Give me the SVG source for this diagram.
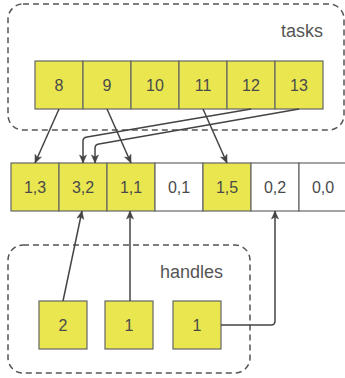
<svg xmlns="http://www.w3.org/2000/svg" width="345" height="378" viewBox="0 0 345 378">
<defs>
<marker id="arr" markerWidth="10" markerHeight="8" refX="9" refY="4" orient="auto" markerUnits="userSpaceOnUse">
<path d="M1,0.5 L9,4 L1,7.5 L3,4 Z" fill="#444" stroke="#444" stroke-width="0.5"/>
</marker>
</defs>
<style>
.grp{fill:none;stroke:#555;stroke-width:1.5;stroke-dasharray:6 4}
.y{fill:#e9e650;stroke:#666;stroke-width:1.2}
.w{fill:#ffffff;stroke:#666;stroke-width:1.2}
.t{font-family:"Liberation Sans",Arial,sans-serif;font-size:16px;fill:#4a4a4a;text-anchor:middle}
.lbl{font-family:"Liberation Sans",Arial,sans-serif;font-size:18px;fill:#555;text-anchor:end}
.c{fill:none;stroke:#444;stroke-width:1.5;marker-end:url(#arr)}
</style>
<g id="tasks-group">
<rect class="grp" x="8" y="4" width="336" height="126" rx="15"/>
<text class="lbl" x="323" y="37">tasks</text>
</g>
<g id="handles-group">
<rect class="grp" x="8" y="245" width="242" height="128" rx="15"/>
<text class="lbl" x="223" y="278">handles</text>
</g>
<g id="task-8"><rect class="y" x="35" y="61" width="48" height="48"/><text class="t" x="59" y="91">8</text></g>
<g id="task-9"><rect class="y" x="83" y="61" width="48" height="48"/><text class="t" x="107" y="91">9</text></g>
<g id="task-10"><rect class="y" x="131" y="61" width="48" height="48"/><text class="t" x="155" y="91">10</text></g>
<g id="task-11"><rect class="y" x="179" y="61" width="48" height="48"/><text class="t" x="203" y="91">11</text></g>
<g id="task-12"><rect class="y" x="227" y="61" width="48" height="48"/><text class="t" x="251" y="91">12</text></g>
<g id="task-13"><rect class="y" x="275" y="61" width="48" height="48"/><text class="t" x="299" y="91">13</text></g>
<g id="slot-0"><rect class="y" x="11" y="163" width="48" height="48"/><text class="t" x="35" y="193">1,3</text></g>
<g id="slot-1"><rect class="y" x="59" y="163" width="48" height="48"/><text class="t" x="83" y="193">3,2</text></g>
<g id="slot-2"><rect class="y" x="107" y="163" width="48" height="48"/><text class="t" x="131" y="193">1,1</text></g>
<g id="slot-3"><rect class="w" x="155" y="163" width="48" height="48"/><text class="t" x="179" y="193">0,1</text></g>
<g id="slot-4"><rect class="y" x="203" y="163" width="48" height="48"/><text class="t" x="227" y="193">1,5</text></g>
<g id="slot-5"><rect class="w" x="251" y="163" width="48" height="48"/><text class="t" x="275" y="193">0,2</text></g>
<g id="slot-6"><rect class="w" x="299" y="163" width="48" height="48"/><text class="t" x="323" y="193">0,0</text></g>
<g id="handle-1"><rect class="y" x="39" y="301" width="48" height="48"/><text class="t" x="63" y="331">2</text></g>
<g id="handle-2"><rect class="y" x="105" y="301" width="48" height="48"/><text class="t" x="129" y="331">1</text></g>
<g id="handle-3"><rect class="y" x="173" y="301" width="48" height="48"/><text class="t" x="197" y="331">1</text></g>
<g id="connectors">
<path class="c" d="M59,109 L35,163"/>
<path class="c" d="M107,109 L131,163"/>
<path class="c" d="M203,109 L227,163"/>
<path class="c" d="M251,109 L87,137 Q83,137.7 83,141 L83,163"/>
<path class="c" d="M299,109 L99,144 Q95,144.7 95,148 L95,163"/>
<path class="c" d="M63,301 L82,211"/>
<path class="c" d="M130,301 L130,211"/>
<path class="c" d="M221,325 L271,325 Q275,325 275,321 L275,211"/>
</g>
</svg>
